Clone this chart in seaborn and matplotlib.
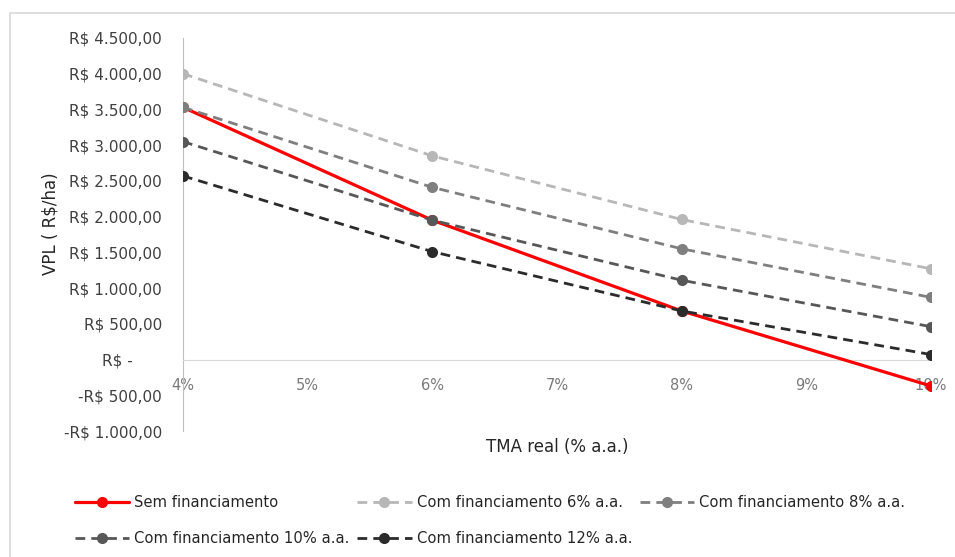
import pandas as pd
import matplotlib.pyplot as plt
import seaborn as sns
from matplotlib.patches import Rectangle
from matplotlib.ticker import FuncFormatter, MultipleLocator

tma = [4, 6, 8, 10]
series_names = ["Sem financiamento", "Com financiamento 6% a.a.", "Com financiamento 8% a.a.",
                "Com financiamento 10% a.a.", "Com financiamento 12% a.a."]
sem_fin = [3530, 1950, 680, -370]
com_6 = [4000, 2850, 1960, 1270]
com_8 = [3530, 2410, 1550, 870]
com_10 = [3050, 1950, 1110, 460]
com_12 = [2570, 1510, 680, 70]

colors = ["#ff0000", "#b7b7b7", "#7f7f7f", "#575757", "#2b2b2b"]

values = [sem_fin, com_6, com_8, com_10, com_12]
df = pd.DataFrame([(n, x, v) for n, vals in zip(series_names, values) for x, v in zip(tma, vals)],
                  columns=["serie", "tma", "vpl"])


def brl(v, pos):
    if abs(v) < 1e-6:
        return "R$ -      "
    s = f"{abs(v):,.2f}".replace(",", "X").replace(".", ",").replace("X", ".")
    return ("-" if v < 0 else "") + "R$ " + s


sns.set_style("white")
plt.rcParams["font.family"] = ["DejaVu Sans"]

fig = plt.figure(figsize=(9.55, 5.57), dpi=100)
fig.patches.append(Rectangle((10 / 955, -0.1), 1.2, 1.1 - 13 / 557, transform=fig.transFigure,
                             fill=False, edgecolor="#d9d9d9", linewidth=1.2))
ax = fig.add_axes([183 / 955, 1 - 431 / 557, (931 - 183) / 955, (431 - 38) / 557])

# excel draws later series on top, so zorder grows with the index
for i, name in enumerate(series_names):
    sub = df[df["serie"] == name]
    sns.lineplot(data=sub, x="tma", y="vpl", ax=ax, color=colors[i], label=name,
                 linewidth=2.3 if i == 0 else 2.0,
                 linestyle="-" if i == 0 else (0, (3.5, 2.2)),
                 marker="o", markersize=8, markeredgewidth=0, zorder=3 + i)

ax.set_xlim(4, 10)
ax.set_ylim(-1000, 4500)
ax.yaxis.set_major_locator(MultipleLocator(500))
ax.yaxis.set_major_formatter(FuncFormatter(brl))
ax.set_xticks(range(4, 11))
ax.set_xticklabels([f"{t}%" for t in range(4, 11)])

for s in ["top", "right"]:
    ax.spines[s].set_visible(False)
ax.spines["left"].set_color("#bfbfbf")
ax.spines["bottom"].set_color("#d9d9d9")
ax.spines["bottom"].set_position(("data", 0))
ax.tick_params(axis="y", length=0, pad=15, labelsize=11, labelcolor="#404040")
ax.tick_params(axis="x", length=0, pad=13, labelsize=10.5, labelcolor="#7a7a7a")

ax.set_xlabel("")
ax.set_ylabel("")
fig.text(51 / 955, 1 - 224 / 557, "VPL ( R$/ha)", rotation=90, ha="center", va="center",
         fontsize=12, color="#262626")
fig.text(557 / 955, 1 - 447 / 557, "TMA real (% a.a.)", ha="center", va="center",
         fontsize=12, color="#262626")

h, l = ax.get_legend_handles_labels()
order = [0, 3, 1, 4, 2]
ax.legend([h[k] for k in order], [l[k] for k in order], ncol=3, frameon=False,
          loc="upper left", bbox_to_anchor=(75 / 955, 1 - 495 / 557), bbox_transform=fig.transFigure,
          fontsize=10.6, labelcolor="#262626", handlelength=3.7, columnspacing=0.5,
          handletextpad=0.34, labelspacing=1.45, borderaxespad=0, borderpad=0)

fig.savefig("out.png", dpi=100)
